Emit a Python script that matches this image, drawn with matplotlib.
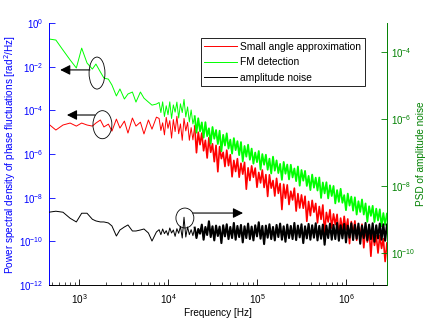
import numpy as np
import matplotlib.pyplot as plt
from matplotlib.patches import Ellipse
from matplotlib.ticker import NullLocator, NullFormatter

plt.rcParams['font.family'] = ['Liberation Sans', 'DejaVu Sans']
plt.rcParams['font.size'] = 7.2

# log10 of frequency [Hz], shared by the three spectra
freq_log = [
    2.66, 2.74, 2.82, 2.90, 2.97, 3.03, 3.09, 3.15, 3.19, 3.24,
    3.28, 3.33, 3.37, 3.42, 3.46, 3.51, 3.55, 3.60, 3.64, 3.69,
    3.73, 3.78, 3.82, 3.87,
    3.90, 3.92, 3.94, 3.96, 3.98, 4.00, 4.02, 4.04, 4.06, 4.08,
    4.10, 4.12, 4.14, 4.16, 4.18, 4.20, 4.22, 4.24, 4.26, 4.28,
    4.30, 4.32, 4.34, 4.36, 4.38, 4.40, 4.42, 4.44, 4.46, 4.48,
    4.50, 4.52, 4.54, 4.56, 4.58, 4.60, 4.62, 4.64, 4.66, 4.68,
    4.70, 4.72, 4.74, 4.76, 4.78, 4.80, 4.82, 4.84, 4.86, 4.88,
    4.90, 4.92, 4.94, 4.96, 4.98, 5.00, 5.02, 5.04, 5.06, 5.08,
    5.10, 5.12, 5.14, 5.16, 5.18, 5.20, 5.22, 5.24, 5.26, 5.28,
    5.30, 5.32, 5.34, 5.36, 5.38, 5.40, 5.42, 5.44, 5.46, 5.48,
    5.50, 5.52, 5.54, 5.56, 5.58, 5.60, 5.62, 5.64, 5.66, 5.68,
    5.70, 5.72, 5.74, 5.76, 5.78, 5.80, 5.82, 5.84, 5.86, 5.88,
    5.90, 5.92, 5.94, 5.96, 5.98, 6.00, 6.02, 6.04, 6.06, 6.08,
    6.10, 6.12, 6.14, 6.16, 6.18, 6.20, 6.22, 6.24, 6.26, 6.28,
    6.30, 6.32, 6.34, 6.36, 6.38, 6.40, 6.42, 6.44, 6.46,
]

# log10 of phase PSD [rad^2/Hz] (left axis)
small_angle_log = [
    -4.63, -4.90, -4.67, -4.58, -4.72, -4.58, -4.67, -4.72, -4.58, -4.44,
    -4.76, -4.63, -4.95, -4.40, -4.81, -4.49, -5.04, -4.35, -4.72, -4.54,
    -5.08, -4.44, -4.86, -4.31,
    -4.37, -4.92, -4.57, -5.12, -4.32, -4.82, -4.47, -5.27, -4.42, -4.97,
    -4.27, -5.07, -4.62, -5.37, -4.37, -4.94, -4.55, -5.37, -4.79, -5.35,
    -4.72, -5.94, -5.00, -5.57, -5.04, -5.85, -5.37, -6.18, -5.25, -5.92,
    -5.53, -6.35, -5.60, -6.81, -5.66, -6.21, -5.92, -6.57, -5.82, -6.53,
    -6.03, -7.04, -6.29, -6.80, -6.21, -7.06, -6.42, -6.92, -6.38, -7.61,
    -6.63, -7.21, -6.54, -7.06, -6.64, -7.52, -6.84, -7.32, -6.73, -7.53,
    -6.94, -7.94, -6.95, -7.56, -7.21, -7.92, -7.11, -7.80, -7.35, -8.54,
    -7.38, -8.02, -7.41, -8.31, -7.70, -8.10, -7.56, -8.61, -7.81, -8.47,
    -7.87, -8.48, -7.93, -9.08, -8.17, -8.82, -8.12, -8.66, -8.26, -9.15,
    -8.40, -8.99, -8.33, -9.63, -8.67, -9.11, -8.55, -9.39, -8.74, -9.23,
    -8.76, -9.75, -8.93, -9.51, -8.85, -9.48, -8.97, -10.10, -9.09, -9.68,
    -9.06, -9.95, -9.33, -9.72, -9.21, -10.29, -9.38, -10.03, -9.43, -10.68,
    -9.48, -10.18, -9.73, -10.53, -9.72, -10.32, -9.87, -10.92, -10.07,
]

fm_detect_log = [
    -0.73, -0.78, -1.24, -1.69, -2.06, -1.15, -1.83, -2.11, -1.88, -2.24,
    -2.52, -2.57, -2.84, -3.34, -3.02, -3.48, -3.25, -3.16, -3.62, -3.16,
    -3.44, -3.62, -3.76, -3.71,
    -3.64, -4.10, -3.61, -4.28, -3.79, -4.20, -3.61, -4.37, -3.75, -4.08,
    -3.62, -4.35, -3.70, -4.10, -3.50, -4.30, -3.84, -4.53, -3.98, -4.62,
    -4.27, -5.02, -4.36, -4.96, -4.55, -5.25, -4.54, -5.18, -4.82, -5.52,
    -4.76, -5.30, -4.90, -5.54, -4.93, -5.87, -5.12, -5.61, -5.05, -5.75,
    -5.34, -5.98, -5.27, -5.82, -5.41, -6.05, -5.45, -6.34, -5.63, -6.12,
    -5.57, -6.26, -5.75, -6.44, -5.93, -6.37, -5.86, -6.71, -6.00, -6.49,
    -6.03, -6.72, -6.21, -6.89, -6.12, -6.76, -6.29, -6.87, -6.45, -7.18,
    -6.36, -6.90, -6.48, -7.16, -6.49, -7.07, -6.66, -7.24, -6.57, -7.45,
    -6.73, -7.22, -6.77, -7.46, -7.00, -7.65, -6.94, -7.54, -7.08, -7.67,
    -7.07, -8.01, -7.30, -7.80, -7.29, -8.03, -7.43, -7.92, -7.46, -8.26,
    -7.65, -8.19, -7.59, -8.23, -7.88, -8.57, -7.81, -8.36, -7.95, -8.59,
    -7.98, -8.77, -8.16, -8.65, -8.08, -8.77, -8.26, -9.10, -8.39, -8.83,
    -8.37, -9.11, -8.50, -9.04, -8.53, -9.31, -8.70, -9.24, -8.73,
]

# log10 of amplitude noise PSD (right axis)
amp_noise_log = [
    -8.78, -8.75, -8.78, -8.96, -9.07, -8.81, -8.81, -8.99, -9.04, -9.07,
    -9.07, -9.10, -9.19, -9.49, -9.31, -9.22, -9.16, -9.34, -9.34, -9.31,
    -9.28, -9.40, -9.64, -9.37,
    -9.30, -9.45, -9.28, -9.42, -9.33, -9.47, -9.25, -9.40, -9.31, -9.50,
    -9.27, -9.41, -9.20, -9.55, -8.93, -9.52, -9.22, -9.45, -9.30, -9.48,
    -9.24, -9.55, -9.28, -9.42, -9.15, -9.60, -9.22, -9.46, -9.05, -9.52,
    -9.20, -9.62, -9.18, -9.49, -9.21, -9.70, -9.17, -9.50, -9.14, -9.58,
    -9.22, -9.55, -9.10, -9.60, -9.19, -9.52, -9.16, -9.68, -9.20, -9.55,
    -9.12, -9.58, -9.21, -9.62, -9.17, -9.50, -9.08, -9.57, -9.19, -9.73,
    -9.18, -9.54, -9.14, -9.58, -9.22, -9.62, -9.16, -9.52, -9.12, -9.60,
    -9.20, -9.66, -9.15, -9.55, -9.19, -9.58, -9.10, -9.61, -9.18, -9.53,
    -9.14, -9.70, -9.20, -9.56, -9.13, -9.60, -9.17, -9.54, -9.11, -9.62,
    -9.19, -9.57, -9.15, -9.75, -9.18, -9.55, -9.12, -9.60, -9.16, -9.58,
    -9.10, -9.63, -9.17, -9.56, -9.13, -9.68, -9.18, -9.54, -9.11, -9.61,
    -9.16, -9.57, -9.12, -9.72, -9.18, -9.55, -9.10, -9.62, -9.15, -9.58,
    -9.11, -9.66, -9.17, -9.56, -9.12, -9.60, -9.14, -9.63, -9.15,
]

labels = ["Small angle approximation", "FM detection", "amplitude noise"]

blue = (0, 0, 1)
dkgreen = (0, 0.5, 0)
n_thin = 44  # first points drawn as a thin trace, the dense tail thicker

f = 10.0 ** np.array(freq_log)
red = 10.0 ** np.array(small_angle_log)
grn = 10.0 ** np.array(fm_detect_log)
blk = 10.0 ** np.array(amp_noise_log)

fig = plt.figure(figsize=(4.3, 3.24), dpi=100)
ax = fig.add_axes([0.114, 0.120, 0.786, 0.809])

l1, = ax.plot(f[:n_thin + 1], red[:n_thin + 1], color=(1, 0, 0), lw=0.7)
ax.plot(f[n_thin:], red[n_thin:], color=(1, 0, 0), lw=1.2)
l2, = ax.plot(f[:n_thin + 1], grn[:n_thin + 1], color=(0, 1, 0), lw=0.7)
ax.plot(f[n_thin:], grn[n_thin:], color=(0, 1, 0), lw=1.3)
ax.set_xscale('log')
ax.set_yscale('log')
ax.set_xlim(10 ** 2.663, 10 ** 6.461)
ax.set_ylim(1e-12, 1)
ax.set_yticks([10.0 ** e for e in range(-12, 1, 2)])
ax.yaxis.set_minor_locator(NullLocator())
ax.xaxis.set_minor_formatter(NullFormatter())
ax.tick_params(axis='x', which='major', direction='in', length=4, width=0.6, pad=5)
ax.tick_params(axis='x', which='minor', direction='in', length=2.5, width=0.5)
ax.tick_params(axis='y', direction='in', length=4, width=0.6, colors=blue, pad=4,
               labelsize=7)
ax.spines['top'].set_visible(False)
ax.spines['right'].set_visible(False)
ax.spines['left'].set_color(blue)
for s in ax.spines.values():
    s.set_linewidth(0.7)
ax.set_xlabel('Frequency [Hz]')
ax.xaxis.set_label_coords(0.5, -0.088)
ax.set_ylabel('Power spectral density of phase fluctuations [rad$^2$/Hz]', color=blue)
ax.yaxis.set_label_coords(-0.092, 0.5)

ax2 = ax.twinx()
l3, = ax2.plot(f[:n_thin + 1], blk[:n_thin + 1], color='k', lw=0.7)
ax2.plot(f[n_thin:], blk[n_thin:], color='k', lw=1.5)
ax2.set_yscale('log')
ax2.set_ylim(10 ** -10.955, 10 ** -3.134)
ax2.set_yticks([1e-10, 1e-8, 1e-6, 1e-4])
ax2.yaxis.set_minor_locator(NullLocator())
ax2.tick_params(axis='y', direction='in', length=4, width=0.6, colors=dkgreen, pad=3,
                labelsize=7)
for side in ['top', 'left', 'bottom']:
    ax2.spines[side].set_visible(False)
ax2.spines['right'].set_color(dkgreen)
ax2.spines['right'].set_linewidth(0.7)
ax2.set_ylabel('PSD of amplitude noise', color=dkgreen)
ax2.yaxis.set_label_coords(1.086, 0.5)

leg = ax2.legend([l1, l2, l3], labels, loc='upper right', bbox_to_anchor=(0.935, 0.943),
                 fancybox=False, edgecolor='k', framealpha=1, handlelength=3.2,
                 handletextpad=0.3, labelspacing=0.55, borderpad=0.35, borderaxespad=0,
                 fontsize=7.4)
leg.get_frame().set_linewidth(0.6)

# circles and arrows pointing each curve to its axis
circles = [((0.142, 0.809), 0.047, 0.122), ((0.158, 0.612), 0.056, 0.107),
           ((0.402, 0.256), 0.053, 0.076)]
for c, w, h in circles:
    ax2.add_patch(Ellipse(c, w, h, transform=ax2.transAxes, fill=False,
                          edgecolor='k', lw=0.6))
arrows = [((0.121, 0.821), (0.033, 0.821)), ((0.136, 0.649), (0.053, 0.649)),
          ((0.426, 0.275), (0.574, 0.275))]
for start, tip in arrows:
    ax2.annotate('', xy=tip, xytext=start, xycoords='axes fraction',
                 arrowprops=dict(arrowstyle='-|>,head_length=0.6,head_width=0.3',
                                 color='k', lw=0.8, mutation_scale=10,
                                 shrinkA=0, shrinkB=0))

fig.savefig('out.png', dpi=100)
